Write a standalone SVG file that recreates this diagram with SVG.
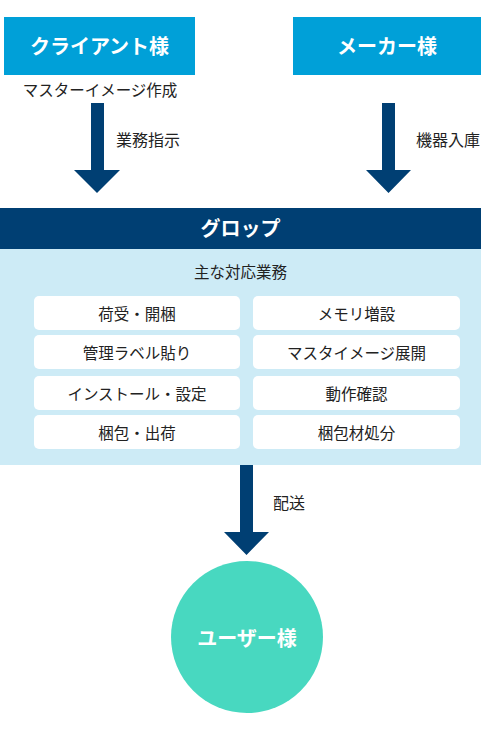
<svg xmlns="http://www.w3.org/2000/svg" width="481" height="730" viewBox="0 0 481 730">
<style>
text{font-family:"Noto Sans CJK JP","Noto Sans",sans-serif;text-anchor:middle;dominant-baseline:central}
.h{fill:#fff;font-weight:bold;font-size:20px}
.t{fill:#222;font-size:15.5px}
.lbl{fill:#222;font-size:16px;text-anchor:start}
.item{fill:#fff}
.arrow{fill:#003f73}
</style>
<rect width="481" height="730" fill="#fff"/>
<g id="client">
<rect x="4" y="17" width="191" height="58" fill="#00a0d8"/>
<text class="h" x="99.5" y="45">クライアント様</text>
<text class="t" x="100" y="89">マスターイメージ作成</text>
</g>
<g id="maker">
<rect x="293" y="17" width="188" height="58" fill="#00a0d8"/>
<text class="h" x="387" y="45">メーカー様</text>
</g>
<g id="group">
<rect x="0" y="249" width="481" height="216" fill="#cdebf6"/>
<rect x="0" y="208" width="481" height="41" fill="#003f73"/>
<text class="h" x="240.5" y="227">グロップ</text>
<text class="t" x="240.5" y="271">主な対応業務</text>
<rect class="item" x="34" y="296" width="206" height="34" rx="5"/>
<rect class="item" x="253" y="296" width="207" height="34" rx="5"/>
<rect class="item" x="34" y="335" width="206" height="34" rx="5"/>
<rect class="item" x="253" y="335" width="207" height="34" rx="5"/>
<rect class="item" x="34" y="376" width="206" height="34" rx="5"/>
<rect class="item" x="253" y="376" width="207" height="34" rx="5"/>
<rect class="item" x="34" y="415" width="206" height="34" rx="5"/>
<rect class="item" x="253" y="415" width="207" height="34" rx="5"/>
<text class="t" x="137" y="313">荷受・開梱</text>
<text class="t" x="356.5" y="313">メモリ増設</text>
<text class="t" x="137" y="352">管理ラベル貼り</text>
<text class="t" x="356.5" y="352">マスタイメージ展開</text>
<text class="t" x="137" y="393">インストール・設定</text>
<text class="t" x="356.5" y="393">動作確認</text>
<text class="t" x="137" y="432">梱包・出荷</text>
<text class="t" x="356.5" y="432">梱包材処分</text>
</g>
<g id="user">
<circle cx="247" cy="637" r="76" fill="#48d8c0"/>
<text class="h" x="247" y="637">ユーザー様</text>
</g>
<g id="connectors">
<polygon class="arrow" points="91,103 104,103 104,170 120,170 97,193 74,170 91,170"/>
<text class="lbl" x="116" y="139">業務指示</text>
<polygon class="arrow" points="382,103 395,103 395,170 411,170 388.5,193 366,170 382,170"/>
<text class="lbl" x="416" y="139">機器入庫</text>
<polygon class="arrow" points="240,465 253,465 253,532 269,532 246.5,555 224,532 240,532"/>
<text class="lbl" x="273" y="502">配送</text>
</g>
</svg>
